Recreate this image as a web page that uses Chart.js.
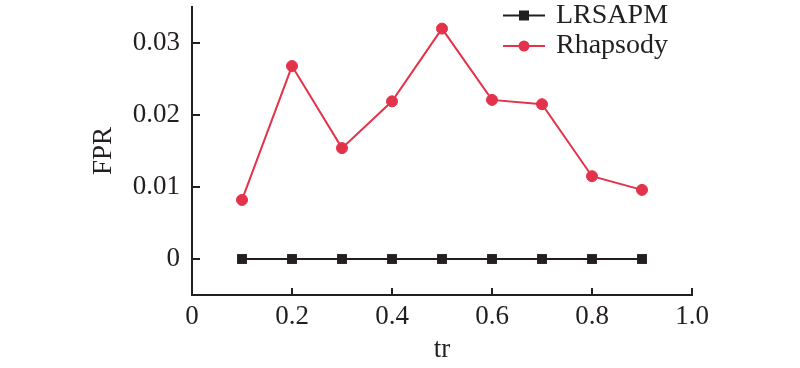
<!DOCTYPE html>
<html>
<head>
<meta charset="utf-8">
<script src="https://cdn.jsdelivr.net/npm/chart.js@4.4.1/dist/chart.umd.min.js"></script>
<style>
  html, body { margin: 0; padding: 0; background: #fff; }
  #wrap { width: 800px; height: 368px; position: relative; }
</style>
</head>
<body>
<div id="wrap"><canvas id="c" width="800" height="368"></canvas></div>
<script>
const trValues = [0.1, 0.2, 0.3, 0.4, 0.5, 0.6, 0.7, 0.8, 0.9];
const lrsapm = [0, 0, 0, 0, 0, 0, 0, 0, 0];
const rhapsody = [0.0082, 0.0268, 0.0154, 0.0219, 0.0320, 0.0221, 0.0215, 0.0115, 0.0096];
const seriesNames = ['LRSAPM', 'Rhapsody'];
const xTickLabels = ['0', '0.2', '0.4', '0.6', '0.8', '1.0'];
const yTickLabels = ['0', '0.01', '0.02', '0.03'];

const FONT = 'Liberation Serif';
const FSIZE = 27;
const AXIS = '#231f20';
const RED = '#e3334a';

function pts(ys) { return trValues.map((x, i) => ({ x: x, y: ys[i] })); }

const innerTicks = {
  id: 'innerTicks',
  afterDraw(chart) {
    const ctx = chart.ctx;
    const xs = chart.scales.x, ys = chart.scales.y;
    const ca = chart.chartArea;
    ctx.save();
    ctx.strokeStyle = AXIS;
    ctx.lineWidth = 2;
    ys.ticks.forEach(t => {
      const p = Math.round(ys.getPixelForValue(t.value));
      const major = t.label !== null && t.label !== undefined && t.label !== '';
      const len = major ? 8 : 5;
      ctx.beginPath();
      ctx.moveTo(ca.left, p);
      ctx.lineTo(ca.left + len, p);
      ctx.stroke();
    });
    xs.ticks.forEach(t => {
      const p = Math.round(xs.getPixelForValue(t.value));
      ctx.beginPath();
      ctx.moveTo(p, ca.bottom);
      ctx.lineTo(p, ca.bottom - 7);
      ctx.stroke();
    });
    ctx.restore();
  }
};

const customLegend = {
  id: 'customLegend',
  afterDraw(chart) {
    const ctx = chart.ctx;
    const rows = [15.5, 46];
    ctx.save();
    chart.data.datasets.forEach((ds, i) => {
      const y = rows[i];
      ctx.strokeStyle = ds.borderColor;
      ctx.lineWidth = 2;
      ctx.beginPath();
      ctx.moveTo(503, y);
      ctx.lineTo(545, y);
      ctx.stroke();
      ctx.fillStyle = ds.pointBackgroundColor;
      if (ds.pointStyle === 'rect') {
        ctx.fillRect(524 - 5, y - 5, 10, 10);
      } else {
        ctx.beginPath();
        ctx.arc(524, y, 5.5, 0, Math.PI * 2);
        ctx.fill();
      }
      ctx.fillStyle = '#231f20';
      ctx.font = '28px "' + FONT + '"';
      ctx.textBaseline = 'middle';
      ctx.textAlign = 'left';
      ctx.fillText(ds.label, 556, y);
    });
    ctx.restore();
  }
};

new Chart(document.getElementById('c'), {
  type: 'line',
  data: {
    datasets: [
      {
        label: seriesNames[0],
        data: pts(lrsapm),
        borderColor: AXIS,
        backgroundColor: AXIS,
        pointBackgroundColor: AXIS,
        pointBorderColor: AXIS,
        pointStyle: 'rect',
        pointRadius: 7,
        pointBorderWidth: 0,
        borderWidth: 2,
        tension: 0
      },
      {
        label: seriesNames[1],
        data: pts(rhapsody),
        borderColor: RED,
        backgroundColor: RED,
        pointBackgroundColor: RED,
        pointBorderColor: RED,
        pointStyle: 'circle',
        pointRadius: 5.5,
        pointBorderWidth: 1,
        borderWidth: 2,
        tension: 0
      }
    ]
  },
  options: {
    responsive: false,
    animation: false,
    layout: { padding: { left: 86, right: 108, top: 7, bottom: 0 } },
    plugins: { legend: { display: false }, tooltip: { enabled: false } },
    scales: {
      x: {
        type: 'linear',
        min: 0, max: 1,
        grid: { drawOnChartArea: false, drawTicks: false },
        border: { display: true, color: AXIS, width: 2 },
        ticks: {
          stepSize: 0.2,
          padding: 6,
          color: '#231f20',
          font: { family: FONT, size: FSIZE },
          maxRotation: 0,
          callback: (v) => {
            const i = Math.round(v / 0.2);
            return Math.abs(v - i * 0.2) < 1e-6 ? xTickLabels[i] : null;
          }
        },
        title: {
          display: true, text: 'tr', color: '#231f20',
          font: { family: FONT, size: FSIZE },
          padding: { top: 0, bottom: 2 }
        },
        afterFit: (s) => { s.height = 73; s.paddingLeft = 0; s.paddingRight = 0; }
      },
      y: {
        type: 'linear',
        min: -0.005, max: 0.035,
        grid: { drawOnChartArea: false, drawTicks: false },
        border: { display: true, color: AXIS, width: 2 },
        ticks: {
          stepSize: 0.005,
          padding: 12,
          color: '#231f20',
          font: { family: FONT, size: FSIZE },
          callback: (v) => {
            const i = Math.round(v / 0.01);
            if (Math.abs(v - i * 0.01) < 1e-7 && i >= 0 && i < yTickLabels.length) return yTickLabels[i];
            return null;
          }
        },
        title: {
          display: true, text: 'FPR', color: '#231f20',
          font: { family: FONT, size: FSIZE },
          padding: { top: 2, bottom: 0 }
        },
        afterFit: (s) => { s.width = 106; s.paddingTop = 0; s.paddingBottom = 0; }
      }
    }
  },
  plugins: [innerTicks, customLegend]
});
</script>
</body>
</html>
